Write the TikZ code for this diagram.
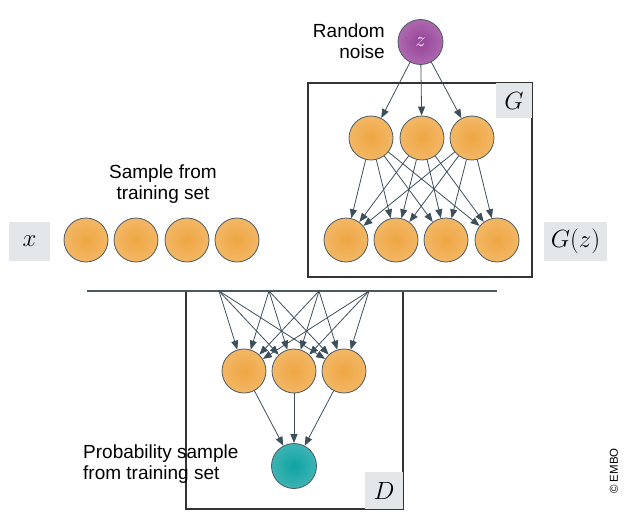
\documentclass[tikz,border=0pt]{standalone}
\usepackage{fontspec}
\setmainfont{Liberation Sans}
\usetikzlibrary{arrows.meta}
\definecolor{edgec}{HTML}{3D4F5A}
\definecolor{ringc}{HTML}{4A5A63}
\definecolor{orC}{HTML}{EFA643}
\definecolor{orE}{HTML}{F6C888}
\definecolor{tlC}{HTML}{0FA2A2}
\definecolor{tlE}{HTML}{6CC6C6}
\definecolor{puC}{HTML}{954397}
\definecolor{puE}{HTML}{C58EC6}
\definecolor{labbg}{HTML}{E4E7EA}
\pgfdeclareradialshading{orangeball}{\pgfpoint{0bp}{0bp}}{color(0bp)=(orC); color(50bp)=(orE)}
\pgfdeclareradialshading{tealball}{\pgfpoint{0bp}{0bp}}{color(0bp)=(tlC); color(50bp)=(tlE)}
\pgfdeclareradialshading{purpleball}{\pgfpoint{0bp}{0bp}}{color(0bp)=(puC); color(50bp)=(puE)}
\tikzset{
  neuron/.style={circle, minimum size=44pt, inner sep=0pt, draw=ringc, line width=0.8pt, shading=orangeball},
  outneuron/.style={circle, minimum size=45pt, inner sep=0pt, draw=ringc, line width=0.8pt, shading=tealball},
  noiseneuron/.style={circle, minimum size=45pt, inner sep=0pt, draw=ringc, line width=0.8pt, shading=purpleball},
  conn/.style={draw=edgec, line width=0.8pt, -{Triangle[length=9pt,width=7pt]}},
  panel/.style={draw=black!80, line width=1.1pt},
  labbox/.style={fill=labbg, inner sep=0pt, font=\fontsize{24}{26}\selectfont},
  caption/.style={font=\fontsize{19}{21.5}\selectfont, inner sep=0pt}
}
\begin{document}
\begin{tikzpicture}[x=1pt,y=-1pt]
\useasboundingbox (0,0) rectangle (624,527);
% G box
\draw[panel] (308,83) rectangle (532,277);
\node[labbox, minimum width=36pt, minimum height=35pt] (Glab) at (514,100.5) {$G$};
% noise
\node[noiseneuron] (z) at (420.5,42) {\color{white}\fontsize{21}{22}\selectfont$z$};
\node[caption, anchor=east, align=right] (rn) at (385,41) {Random\\noise};
% G hidden
\node[neuron] (g1) at (371,138) {};
\node[neuron] (g2) at (422,138) {};
\node[neuron] (g3) at (472,138) {};
% G output
\node[neuron] (o1) at (346,240) {};
\node[neuron] (o2) at (396,240) {};
\node[neuron] (o3) at (446,240) {};
\node[neuron] (o4) at (497,240) {};
\node[labbox, minimum width=63pt, minimum height=39pt] (Gz) at (575.5,241.5) {$G(z)$};
% x samples
\node[labbox, minimum width=41pt, minimum height=39pt] (xl) at (29.5,241.5) {$x$};
\node[neuron] (x1) at (86,240) {};
\node[neuron] (x2) at (136,240) {};
\node[neuron] (x3) at (187,240) {};
\node[neuron] (x4) at (237,240) {};
\node[caption, align=center] (st) at (163,184) {Sample from\\training set};
% arrows in G
\foreach \h in {g1,g2,g3} {\draw[conn] (z) -- (\h);}
\foreach \h in {g1,g2,g3} {\foreach \o in {o1,o2,o3,o4} {\draw[conn] (\h) -- (\o);}}
% D box
\draw[panel] (186,291) -- (186,509) -- (403,509) -- (403,291);
\node[labbox, minimum width=38pt, minimum height=37pt] (Dlab) at (384,490.5) {$D$};
\draw[draw=ringc, line width=2pt] (87,291) coordinate (la) -- (497,291) coordinate (lb);
\coordinate (t1) at (219,291);
\coordinate (t2) at (269,291);
\coordinate (t3) at (319,291);
\coordinate (t4) at (369,291);
\node[neuron] (d1) at (244,371) {};
\node[neuron] (d2) at (294,371) {};
\node[neuron] (d3) at (344,371) {};
\node[outneuron] (out) at (294,466) {};
\foreach \t in {t1,t2,t3,t4} {\foreach \d in {d1,d2,d3} {\draw[conn] (\t) -- (\d);}}
\foreach \d in {d1,d2,d3} {\draw[conn] (\d) -- (out);}
\node[caption, anchor=west, align=left] (ps) at (83,464) {Probability sample\\from training set};
\node[rotate=90, font=\fontsize{11.5}{13}\selectfont, inner sep=0pt] (embo) at (614,471) {© EMBO};
\end{tikzpicture}
\end{document}
